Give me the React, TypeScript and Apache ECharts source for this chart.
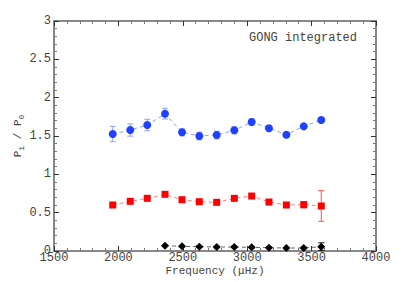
import React, { useEffect, useRef } from "react";
import * as echarts from "echarts";

const freqBlue = [1956, 2092, 2224, 2362, 2494, 2628, 2763, 2900, 3035, 3169, 3304, 3439, 3575];
const ratioBlue = [1.526, 1.578, 1.643, 1.791, 1.548, 1.5, 1.513, 1.574, 1.683, 1.6, 1.517, 1.626, 1.709];
const errBlue = [0.1, 0.08, 0.075, 0.07, 0.045, 0.05, 0.05, 0.045, 0.04, 0.035, 0.03, 0.03, 0.03];

const freqRed = [1956, 2092, 2224, 2362, 2494, 2628, 2763, 2900, 3035, 3169, 3304, 3439, 3575];
const ratioRed = [0.6, 0.648, 0.687, 0.739, 0.669, 0.643, 0.635, 0.687, 0.717, 0.639, 0.6, 0.604, 0.587];
const errRed = [0.02, 0.02, 0.02, 0.02, 0.02, 0.02, 0.02, 0.02, 0.02, 0.02, 0.02, 0.04, 0.2];

const freqBlack = [2362, 2494, 2628, 2763, 2900, 3035, 3169, 3304, 3439, 3575];
const ratioBlack = [0.069, 0.061, 0.057, 0.052, 0.052, 0.048, 0.043, 0.039, 0.039, 0.057];
const errBlack = [0.01, 0.01, 0.01, 0.01, 0.01, 0.01, 0.01, 0.01, 0.01, 0.05];

const xTicks = [1500, 2000, 2500, 3000, 3500, 4000];
const yTicks = [0, 0.5, 1, 1.5, 2, 2.5, 3];

const FONT = "Liberation Mono";

function errSeries(xs: number[], ys: number[], es: number[], color: string, z: number) {
  return {
    type: "custom",
    z,
    silent: true,
    data: xs.map((x, i) => [x, ys[i] - es[i], ys[i] + es[i]]),
    renderItem: (_p: any, api: any) => {
      const lo = api.coord([api.value(0), api.value(1)]);
      const hi = api.coord([api.value(0), api.value(2)]);
      const w = 3;
      const st = { stroke: color, lineWidth: 1 };
      return {
        type: "group",
        children: [
          { type: "line", shape: { x1: lo[0], y1: lo[1], x2: hi[0], y2: hi[1] }, style: st },
          { type: "line", shape: { x1: lo[0] - w, y1: lo[1], x2: lo[0] + w, y2: lo[1] }, style: st },
          { type: "line", shape: { x1: hi[0] - w, y1: hi[1], x2: hi[0] + w, y2: hi[1] }, style: st },
        ],
      };
    },
  };
}

function lineSeries(xs: number[], ys: number[], symbol: string, size: number, color: string, lineColor: string) {
  return {
    type: "line",
    z: 5,
    data: xs.map((x, i) => [x, ys[i]]),
    symbol,
    symbolSize: size,
    itemStyle: { color },
    lineStyle: { color: lineColor, width: 1, type: [4, 3] },
  };
}

export default function App() {
  const ref = useRef<HTMLDivElement>(null);
  useEffect(() => {
    document.body.style.margin = "0";
    const chart = echarts.init(ref.current!, undefined, { renderer: "svg" });
    const axisCommon = {
      type: "value",
      axisLine: { show: true, onZero: false, lineStyle: { color: "#888", width: 2 } },
      axisTick: { show: true, inside: true, length: 5, lineStyle: { color: "#333", width: 1 } },
      minorTick: { show: true, splitNumber: 5, length: 3, lineStyle: { color: "#777", width: 1 } },
      splitLine: { show: false },
    };
    chart.setOption({
      animation: false,
      grid: { left: 54, top: 21, right: 39, bottom: 31 },
      xAxis: [
        {
          ...axisCommon,
          position: "bottom",
          min: 1500,
          max: 4000,
          interval: 500,
          axisLabel: {
            color: "#444",
            fontFamily: FONT,
            fontSize: 12,
            margin: 1,
            customValues: xTicks,
            formatter: (v: number) => String(v),
          },
        },
        {
          ...axisCommon,
          position: "top",
          min: 1500,
          max: 4000,
          interval: 500,
          axisLabel: { show: false },
        },
      ],
      yAxis: [
        {
          ...axisCommon,
          position: "left",
          min: 0,
          max: 3,
          interval: 0.5,
          axisLabel: {
            color: "#444",
            fontFamily: FONT,
            fontSize: 12,
            margin: 3,
            customValues: yTicks,
            formatter: (v: number) => String(v),
          },
        },
        {
          ...axisCommon,
          position: "right",
          min: 0,
          max: 3,
          interval: 0.5,
          axisLabel: { show: false },
        },
      ],
      graphic: [
        {
          type: "text",
          x: 249,
          y: 38,
          style: {
            text: "GONG integrated",
            fontFamily: FONT,
            fontSize: 12,
            fill: "#444",
            verticalAlign: "middle",
          },
        },
        {
          type: "text",
          x: 215,
          y: 271,
          style: {
            text: "Frequency (\u03bcHz)",
            fontFamily: FONT,
            fontSize: 11,
            fill: "#444",
            align: "center",
            verticalAlign: "middle",
          },
        },
        {
          type: "text",
          x: 18,
          y: 136,
          rotation: Math.PI / 2,
          style: {
            text: "{b|P}{s|1}{b| / P}{s|0}",
            align: "center",
            verticalAlign: "middle",
            rich: {
              b: { fontFamily: FONT, fontSize: 11, fill: "#444", lineHeight: 14 },
              s: { fontFamily: FONT, fontSize: 8, fill: "#444", lineHeight: 14, padding: [6, 0, 0, 0] },
            },
          },
        },
      ],
      series: [
        errSeries(freqBlue, ratioBlue, errBlue, "#8fa0ff", 2),
        errSeries(freqRed, ratioRed, errRed, "#ff5050", 2),
        errSeries(freqBlack, ratioBlack, errBlack, "#222", 2),
        lineSeries(freqBlue, ratioBlue, "circle", 8, "#2040ff", "#90a0ff"),
        lineSeries(freqRed, ratioRed, "rect", 7, "#ff0000", "#ff8080"),
        lineSeries(freqBlack, ratioBlack, "diamond", 8, "#000000", "#666"),
      ],
    });
    return () => chart.dispose();
  }, []);
  return <div ref={ref} style={{ width: 415, height: 282 }} />;
}
